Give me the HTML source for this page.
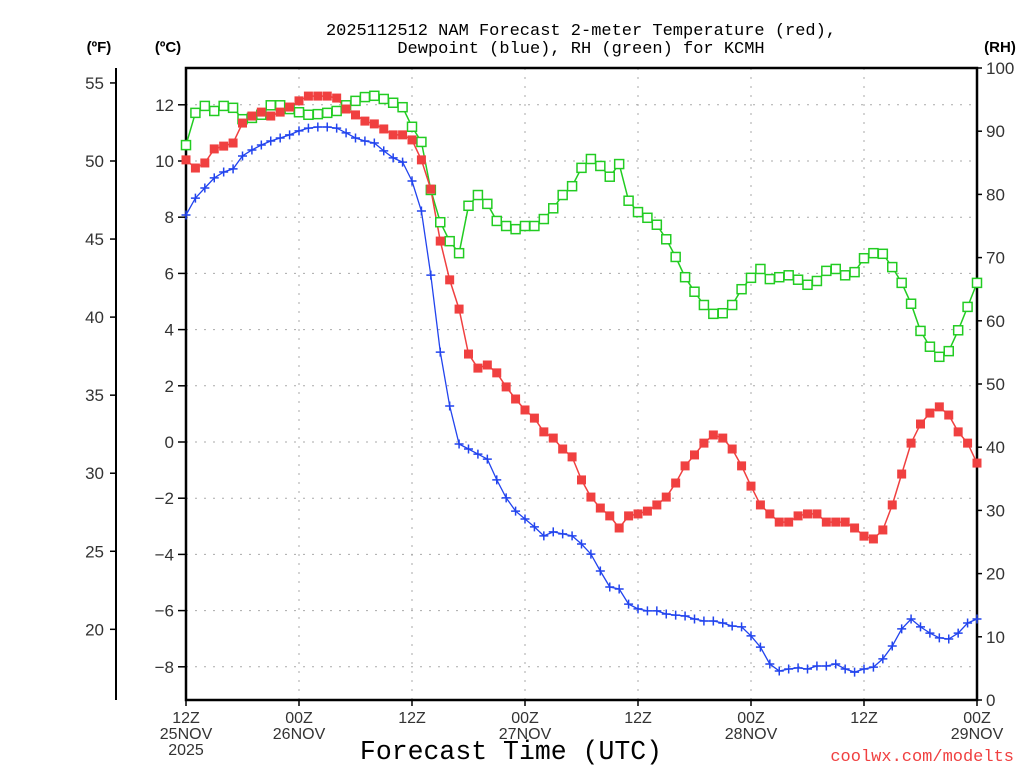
<!DOCTYPE html>
<html><head><meta charset="utf-8"><style>
html,body{margin:0;padding:0;background:#fff;}
svg{display:block;font-family:"Liberation Sans","DejaVu Sans",sans-serif;}
.mono{font-family:"Liberation Mono","DejaVu Sans Mono",monospace;}
</style></head><body>
<svg id="chart" width="1024" height="768" viewBox="0 0 1024 768" xmlns="http://www.w3.org/2000/svg">
<text class="mono" x="581" y="35" text-anchor="middle" font-size="17" fill="#000">2025112512 NAM Forecast 2-meter Temperature (red),</text>
<text class="mono" x="581" y="53" text-anchor="middle" font-size="17" fill="#000">Dewpoint (blue), RH (green) for KCMH</text>
<text x="99" y="52" text-anchor="middle" font-size="15" font-weight="bold">(ºF)</text>
<text x="168" y="52" text-anchor="middle" font-size="15" font-weight="bold">(ºC)</text>
<text x="1000" y="52" text-anchor="middle" font-size="15" font-weight="bold">(RH)</text>
<g id="grid"></g>
<g id="axes"></g>
<g id="series"></g>
<text class="mono" x="511" y="759" text-anchor="middle" font-size="26.5">Forecast Time (UTC)</text>
<text class="mono" x="1014" y="761" text-anchor="end" font-size="17" fill="#f04040">coolwx.com/modelts</text>
</svg>
<script>
const tempC=[10.04,9.75,9.93,10.43,10.53,10.64,11.35,11.6,11.74,11.6,11.74,11.92,12.14,12.31,12.31,12.31,12.24,11.85,11.64,11.42,11.32,11.14,10.93,10.93,10.75,10.04,9.0,7.15,5.77,4.73,3.13,2.63,2.74,2.46,1.96,1.53,1.14,0.85,0.36,0.14,-0.25,-0.53,-1.35,-1.96,-2.35,-2.63,-3.06,-2.63,-2.56,-2.46,-2.24,-1.96,-1.46,-0.85,-0.46,-0.04,0.25,0.14,-0.25,-0.85,-1.57,-2.24,-2.56,-2.85,-2.85,-2.63,-2.56,-2.56,-2.85,-2.85,-2.85,-3.06,-3.35,-3.45,-3.13,-2.24,-1.14,-0.04,0.64,1.03,1.25,0.96,0.36,-0.04,-0.75];
const dewC=[8.08,8.68,9.04,9.40,9.61,9.72,10.18,10.39,10.57,10.71,10.82,10.93,11.07,11.17,11.21,11.21,11.17,11.0,10.82,10.71,10.64,10.36,10.11,9.96,9.29,8.22,5.94,3.20,1.28,-0.07,-0.25,-0.43,-0.61,-1.35,-1.99,-2.46,-2.74,-3.02,-3.34,-3.20,-3.27,-3.34,-3.63,-3.99,-4.59,-5.16,-5.23,-5.77,-5.94,-6.01,-6.01,-6.12,-6.16,-6.19,-6.30,-6.37,-6.37,-6.44,-6.55,-6.58,-6.90,-7.30,-7.90,-8.15,-8.08,-8.04,-8.08,-7.97,-7.97,-7.90,-8.08,-8.19,-8.08,-8.01,-7.72,-7.26,-6.65,-6.30,-6.58,-6.80,-6.97,-7.01,-6.80,-6.44,-6.30];
const rh=[87.8,92.9,94.0,93.2,94.0,93.7,91.9,92.1,92.6,94.1,94.1,93.5,93.0,92.6,92.7,92.9,93.2,94.1,94.8,95.4,95.6,95.1,94.5,93.8,90.7,88.3,80.7,75.6,72.6,70.7,78.2,79.9,78.5,75.8,75.0,74.5,75.0,75.0,76.1,77.8,79.9,81.3,84.2,85.6,84.5,82.8,84.8,79.0,77.2,76.3,75.2,72.9,70.1,66.9,64.6,62.5,61.1,61.2,62.5,65.0,66.8,68.2,66.6,66.9,67.2,66.5,65.7,66.3,67.9,68.2,67.2,67.7,69.9,70.7,70.6,68.5,66.0,62.7,58.4,55.9,54.3,55.2,58.5,62.2,66.0];
const cTicks=[12,10,8,6,4,2,0,-2,-4,-6,-8];
const fTicks=[55,50,45,40,35,30,25,20];
const rhTicks=[0,10,20,30,40,50,60,70,80,90,100];
const xTickHours=[0,12,24,36,48,60,72,84];
const xTickLine1=["12Z","00Z","12Z","00Z","12Z","00Z","12Z","00Z"];
const xTickLine2=["25NOV","26NOV","","27NOV","","28NOV","","29NOV"];
const xTickLine3=["2025","","","","","","",""];

const L=186,R=977,T=68,B=700;
const xS=h=>L+(R-L)*h/84;
const yC=c=>442-c*28.1;
const yF=f=>yC((f-32)*5/9);
const yRH=v=>B-(B-T)*v/100;
const NS="http://www.w3.org/2000/svg";
function mk(parent,tag,attrs){const e=document.createElementNS(NS,tag);for(const k in attrs)e.setAttribute(k,attrs[k]);parent.appendChild(e);return e;}
const grid=document.getElementById('grid'),axes=document.getElementById('axes'),ser=document.getElementById('series');

cTicks.forEach(c=>{
  const y=yC(c);
  const g=mk(grid,'line',{x1:L,x2:R,y1:y,y2:y,stroke:'#aaa','stroke-width':1,'stroke-dasharray':'2,7'});
  
  
  const t=mk(axes,'line',{x1:L-8,x2:L,y1:y,y2:y,stroke:'#000','stroke-width':1.5});
  
  
  const lb=mk(axes,'text',{x:L-12,y:y+6,'text-anchor':'end','font-size':17,fill:'#333'});
  lb.textContent=(c<0?'\u2212'+(-c):c);
  
  
});
xTickHours.forEach((h,i)=>{
  const x=xS(h);
  if(h>0&&h<84){const g=mk(grid,'line',{x1:x,x2:x,y1:T,y2:B,stroke:'#aaa','stroke-width':1,'stroke-dasharray':'2,7'});
  
  }
  const t=mk(axes,'line',{x1:x,x2:x,y1:B,y2:B+6,stroke:'#000','stroke-width':1.5});
  
  
  [xTickLine1[i],xTickLine2[i],xTickLine3[i]].forEach((s,j)=>{
    if(!s)return;
    const lb=mk(axes,'text',{x:x,y:723+j*16,'text-anchor':'middle','font-size':16,fill:'#333'});
    lb.textContent=s;
    
    
  });
});
const fa=mk(axes,'line',{x1:116,x2:116,y1:T,y2:B,stroke:'#000','stroke-width':2});


fTicks.forEach(f=>{
  const y=yF(f);
  const t=mk(axes,'line',{x1:110,x2:116,y1:y,y2:y,stroke:'#000','stroke-width':1.5});
  
  
  const lb=mk(axes,'text',{x:104,y:y+6,'text-anchor':'end','font-size':17,fill:'#333'});
  lb.textContent=f;
  
  
});
rhTicks.forEach(v=>{
  const y=yRH(v);
  const t=mk(axes,'line',{x1:R,x2:R+5,y1:y,y2:y,stroke:'#000','stroke-width':1.5});
  
  
  const lb=mk(axes,'text',{x:986,y:y+6,'font-size':17,fill:'#333'});
  lb.textContent=v;
  
  
});
const fr=mk(axes,'rect',{x:L,y:T,width:R-L,height:B-T,fill:'none',stroke:'#000','stroke-width':2.5});



function pts(arr,fy){return arr.map((v,i)=>xS(i).toFixed(1)+','+fy(v).toFixed(1)).join(' ');}
const rl=mk(ser,'polyline',{points:pts(rh,yRH),fill:'none',stroke:'#22cc22','stroke-width':1.5});


const tl=mk(ser,'polyline',{points:pts(tempC,yC),fill:'none',stroke:'#f04040','stroke-width':1.5});


const dl=mk(ser,'polyline',{points:pts(dewC,yC),fill:'none',stroke:'#2244ee','stroke-width':1.3});


rh.forEach((v,i)=>{
  const m=mk(ser,'rect',{x:xS(i)-4.5,y:yRH(v)-4.5,width:9,height:9,fill:'#fff',stroke:'#22cc22','stroke-width':1.5});
  
  
});
tempC.forEach((v,i)=>{
  const m=mk(ser,'rect',{x:xS(i)-4.5,y:yC(v)-4.5,width:9,height:9,fill:'#f04040'});
  
  
});
dewC.forEach((v,i)=>{
  const x=xS(i),y=yC(v);
  const m=mk(ser,'path',{d:`M${x-4.5},${y}H${x+4.5}M${x},${y-4.5}V${y+4.5}`,stroke:'#2244ee','stroke-width':1.5,fill:'none'});
  
  
});
</script>
</body></html>
